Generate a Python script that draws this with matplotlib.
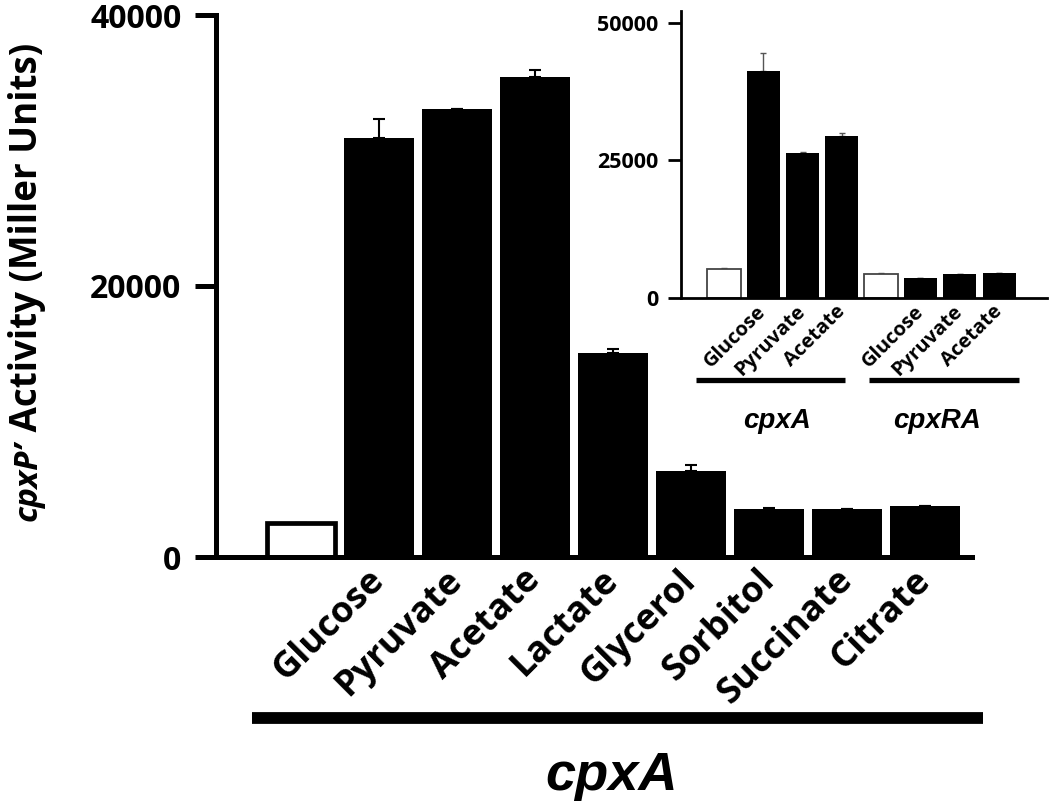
import numpy as np
import matplotlib.pyplot as plt
from matplotlib.lines import Line2D

# main panel: cpxA strain, carbon sources (first bar = no addition)
main_labels = ["", "Glucose", "Pyruvate", "Acetate", "Lactate",
               "Glycerol", "Sorbitol", "Succinate", "Citrate"]
main_values = [2500, 30900, 33050, 35430, 15050, 6370, 3540, 3520, 3760]
main_err = [0, 1450, 0, 540, 300, 420, 100, 0, 0]
main_yticks = [0, 20000, 40000]

# inset: cpxA vs cpxRA
inset_labels = ["", "Glucose", "Pyruvate", "Acetate",
                "", "Glucose", "Pyruvate", "Acetate"]
inset_values = [5160, 41220, 26250, 29400, 4250, 3530, 4310, 4430]
inset_err = [150, 3320, 150, 600, 150, 50, 80, 100]
inset_yticks = [0, 25000, 50000]
inset_groups = ["cpxA", "cpxRA"]

W, H = 1050, 805
def fx(px):
    return px / W
def fy(py):
    return 1 - py / H

sans = "Open Sans"
ital = "Liberation Sans"

fig = plt.figure(figsize=(W / 100, H / 100), dpi=100)

# ---- main axes
ax = fig.add_axes([fx(216), fy(557), fx(972) - fx(216), fy(15) - fy(557)])
x = np.arange(len(main_values))
ax.bar(x[1:], main_values[1:], width=0.9, color="black", zorder=2)
ax.bar(x[:1], main_values[:1], width=0.86, color="white",
       edgecolor="black", linewidth=3.4, zorder=2)
ax.errorbar(x, main_values, yerr=[np.zeros(len(x)), main_err], fmt="none",
            ecolor="black", elinewidth=1.5, capsize=4, capthick=1.5, zorder=1)
ax.set_xlim(-1.089, 8.6)
ax.set_ylim(0, 40000)
ax.set_yticks(main_yticks)
ax.set_yticklabels([str(v) for v in main_yticks], fontfamily=sans,
                   fontweight="bold", fontsize=23)
ax.set_xticks(x[1:])
ax.set_xticklabels(main_labels[1:], rotation=45, ha="right", va="center",
                   rotation_mode="anchor", fontfamily=sans,
                   fontweight="bold", fontsize=26)
ax.tick_params(axis="x", length=0, pad=13)
ax.tick_params(axis="y", length=15, width=3.6, pad=10)
for s in ["top", "right"]:
    ax.spines[s].set_visible(False)
for s in ["left", "bottom"]:
    ax.spines[s].set_linewidth(3.6)

fig.add_artist(Line2D([fx(252), fx(983)], [fy(718), fy(718)],
                      color="black", linewidth=8.5, solid_capstyle="butt"))
fig.text(fx(612), fy(790), "cpxA", ha="center", va="baseline",
         fontfamily=ital, fontweight="bold", fontstyle="italic", fontsize=39)

# y label: italic gene name + plain rest
fig.text(fx(37), fy(441), "cpxP\u2019", rotation=90, rotation_mode="anchor",
         ha="right", va="baseline", fontfamily=sans, fontweight="bold",
         fontstyle="italic", fontsize=24)
fig.text(fx(37), fy(441), " Activity (Miller Units)", rotation=90,
         rotation_mode="anchor", ha="left", va="baseline", fontfamily=sans,
         fontweight="bold", fontsize=26.5)

# ---- inset axes
ins = fig.add_axes([fx(681), fy(297.7), fx(1047) - fx(681), fy(10.7) - fy(297.7)])
xi = np.arange(len(inset_values))
white_idx = [0, 4]
black_idx = [1, 2, 3, 5, 6, 7]
ins.bar(xi[black_idx], np.array(inset_values)[black_idx], width=0.84,
        color="black", zorder=2)
ins.bar(xi[white_idx], np.array(inset_values)[white_idx], width=0.88,
        color="white", edgecolor="#444444", linewidth=1.3, zorder=2)
ins.errorbar(xi, inset_values, yerr=[np.zeros(len(xi)), inset_err],
             fmt="none", ecolor="#555555", elinewidth=1, capsize=2,
             capthick=1, zorder=1)
ins.set_xlim(-1.094, 8.22)
ins.set_ylim(0, 52180)
ins.set_yticks(inset_yticks)
ins.set_yticklabels([str(v) for v in inset_yticks], fontfamily=sans,
                    fontweight="bold", fontsize=15.5)
ins.set_xticks(xi[black_idx])
ins.set_xticklabels(np.array(inset_labels)[black_idx], rotation=45,
                    ha="right", va="center", rotation_mode="anchor",
                    fontfamily=sans, fontweight="bold", fontsize=14.5)
ins.tick_params(axis="x", length=0, pad=8)
ins.tick_params(axis="y", length=9.5, width=2, pad=7)
for s in ["top", "right"]:
    ins.spines[s].set_visible(False)
for s in ["left", "bottom"]:
    ins.spines[s].set_linewidth(2)
ins.patch.set_alpha(0)

for (x0, x1, cx), name in zip([(696, 845, 777), (869, 1019, 937)], inset_groups):
    fig.add_artist(Line2D([fx(x0), fx(x1)], [fy(380), fy(380)],
                          color="black", linewidth=3.8, solid_capstyle="butt"))
    fig.text(fx(cx), fy(428), name, ha="center", va="baseline",
             fontfamily=ital, fontweight="bold", fontstyle="italic",
             fontsize=20)

fig.savefig("out.png", dpi=100)
